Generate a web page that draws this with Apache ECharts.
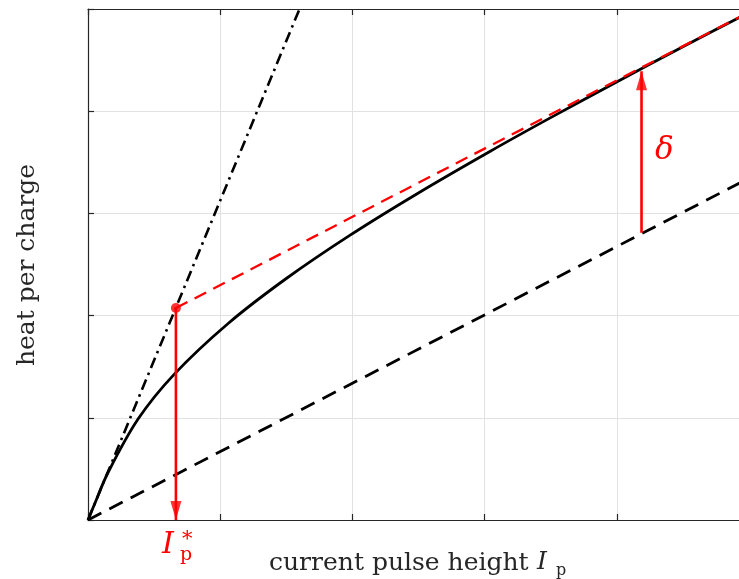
<!DOCTYPE html>
<html><head><meta charset="utf-8">
<script src="https://cdn.jsdelivr.net/npm/echarts@6/dist/echarts.min.js"></script>
<style>html,body{margin:0;padding:0;background:#fff;overflow:hidden}#c{width:739px;height:579px}</style>
</head><body><div id="c"></div>
<script>
// ---- data (axes run 0..5 in both directions, no tick labels) ----
const xTicks = [0, 1, 2, 3, 4, 5];
const yTicks = [0, 1, 2, 3, 4, 5];
// solid black curve: heat per charge vs current pulse height
const curveX = [0, 0.05, 0.15, 0.38, 0.655, 1.06, 1.5, 1.98, 2.49, 3.04, 3.5, 4.02, 4.5, 4.92, 5.0];
const curveY = [0, 0.157, 0.46, 0.99, 1.43, 1.923, 2.363, 2.785, 3.193, 3.606, 3.937, 4.301, 4.63, 4.913, 4.967];
// black dashed asymptote-slope line through origin
const dashedX = [0, 5];
const dashedY = [0, 3.345];
// black dash-dot initial-slope line
const dashDotX = [0, 1.6];
const dashDotY = [0, 5.0];
// red dashed tangent line
const tangentX = [0.665, 5];
const tangentY = [2.074, 4.97];
// red marker point I_p*
const starX = [0.665];
const starY = [2.074];
// red arrows: [start, end]
const downArrowX = [0.665, 0.665];
const downArrowY = [2.074, 0];
const upArrowX = [4.187, 4.187];
const upArrowY = [2.81, 4.39];

const zip = (a, b) => a.map((v, i) => [v, b[i]]);
const RED = '#ff0000';
const AX = '#262626';
const GRIDC = '#e1e1e1';
const SERIF = '"DejaVu Serif", "Liberation Serif", serif';

const chart = echarts.init(document.getElementById('c'), null, {renderer: 'canvas'});

const baseX = {
  type: 'value', min: xTicks[0], max: xTicks[xTicks.length - 1], interval: 1,
  axisLabel: {show: false},
  axisTick: {show: true, inside: true, length: 6, lineStyle: {color: AX, width: 1.2}},
  axisLine: {show: true, onZero: false, lineStyle: {color: AX, width: 1.2}},
};
const baseY = {
  type: 'value', min: yTicks[0], max: yTicks[yTicks.length - 1], interval: 1,
  axisLabel: {show: false},
  axisTick: {show: true, inside: true, length: 6, lineStyle: {color: AX, width: 1.2}},
  axisLine: {show: true, onZero: false, lineStyle: {color: AX, width: 1.2}},
};

const option = {
  animation: false,
  backgroundColor: '#fff',
  grid: {left: 88, top: 9, width: 661, height: 511, containLabel: false, outerBoundsMode: 'none'},
  xAxis: [
    Object.assign({}, baseX, {position: 'bottom', splitLine: {show: true, lineStyle: {color: GRIDC, width: 1}}}),
    Object.assign({}, baseX, {position: 'top', splitLine: {show: false}})
  ],
  yAxis: [
    Object.assign({}, baseY, {position: 'left', splitLine: {show: true, lineStyle: {color: GRIDC, width: 1}}}),
    Object.assign({}, baseY, {position: 'right', splitLine: {show: false}})
  ],
  series: [
    {type: 'line', data: zip(dashedX, dashedY), symbol: 'none', z: 3,
     lineStyle: {color: '#000', width: 2.8, type: [15, 9]}},
    {type: 'line', data: zip(dashDotX, dashDotY), symbol: 'none', z: 3,
     lineStyle: {color: '#000', width: 2.6, type: [11, 5, 2.5, 5]}},
    {type: 'line', data: zip(curveX, curveY), symbol: 'none', smooth: 0.35, z: 4,
     lineStyle: {color: '#000', width: 2.8}},
    {type: 'line', data: zip(tangentX, tangentY), symbol: 'none', z: 5,
     lineStyle: {color: RED, width: 2.3, type: [13, 8]}},
    {type: 'line', data: zip(downArrowX, downArrowY), symbol: 'none', z: 6,
     lineStyle: {color: RED, width: 2.6}},
    {type: 'line', data: zip(upArrowX, upArrowY), symbol: 'none', z: 6,
     lineStyle: {color: RED, width: 2.6}},
    {type: 'scatter', data: zip(starX, starY), symbol: 'circle', symbolSize: 10, z: 7,
     itemStyle: {color: RED}},
    {type: 'scatter', data: [[downArrowX[1], downArrowY[1]]], symbol: 'triangle',
     symbolSize: [11, 19], symbolRotate: 180, symbolOffset: [0, -9.5], z: 7,
     itemStyle: {color: RED}},
    {type: 'scatter', data: [[upArrowX[1], upArrowY[1]]], symbol: 'triangle',
     symbolSize: [11, 19], symbolRotate: 0, symbolOffset: [0, 9.5], z: 7,
     itemStyle: {color: RED}}
  ],
  graphic: [
    {type: 'text', left: 269, top: 551, style: {text: 'current pulse height', font: '25px ' + SERIF, fill: '#262626'}},
    {type: 'text', left: 537, top: 550, style: {text: 'I', font: 'italic 25px ' + SERIF, fill: '#262626'}},
    {type: 'text', left: 556, top: 563, style: {text: 'p', font: '16px ' + SERIF, fill: '#262626'}},
    {type: 'text', x: 27, y: 265, rotation: Math.PI / 2,
     style: {text: 'heat per charge', font: '25px ' + SERIF, fill: '#262626', align: 'center', verticalAlign: 'middle'}},
    {type: 'text', left: 162, top: 530, style: {text: 'I', font: 'italic 30px ' + SERIF, fill: RED}},
    {type: 'text', left: 180, top: 546, style: {text: 'p', font: '19px ' + SERIF, fill: RED}},
    {type: 'text', left: 182, top: 529, style: {text: '*', font: '21px ' + SERIF, fill: RED}},
    {type: 'text', left: 655, top: 135, style: {text: 'δ', font: 'italic 31px ' + SERIF, fill: RED}}
  ]
};
chart.setOption(option);
</script>
</body></html>
